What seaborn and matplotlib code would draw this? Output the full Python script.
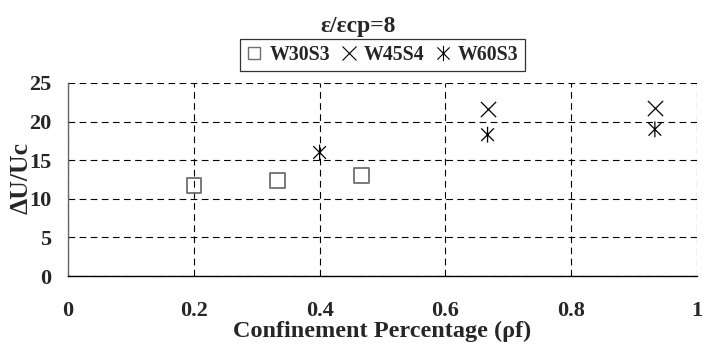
import numpy as np
import pandas as pd
import seaborn as sns
import matplotlib
matplotlib.use("Agg")
import matplotlib.pyplot as plt
from matplotlib.path import Path
from matplotlib.lines import Line2D

# ---- data ----
series_names = ["W30S3", "W45S4", "W60S3"]
rho_w30s3 = [0.2, 0.333, 0.467]
du_w30s3 = [11.7, 12.4, 13.0]
rho_w45s4 = [0.667, 0.933]
du_w45s4 = [21.6, 21.7]
rho_w60s3 = [0.4, 0.667, 0.933]
du_w60s3 = [16.0, 18.3, 19.0]
x_ticks = [0, 0.2, 0.4, 0.6, 0.8, 1]
x_tick_labels = ["0", "0.2", "0.4", "0.6", "0.8", "1"]
y_ticks = [0, 5, 10, 15, 20, 25]
title_text = "ε/εcp=8"
x_label = "Confinement Percentage (ρf)"
y_label = "ΔU/Uc"

df = pd.concat([
    pd.DataFrame({"rho": rho_w30s3, "du": du_w30s3, "series": series_names[0]}),
    pd.DataFrame({"rho": rho_w45s4, "du": du_w45s4, "series": series_names[1]}),
    pd.DataFrame({"rho": rho_w60s3, "du": du_w60s3, "series": series_names[2]}),
], ignore_index=True)

sns.set_theme(style="white")
plt.rcParams["font.family"] = ["Liberation Serif", "DejaVu Serif"]
plt.rcParams["font.weight"] = "bold"

star_path = Path(
    [(-1, -1), (1, 1), (-1, 1), (1, -1), (0, -1.25), (0, 1.25)],
    [Path.MOVETO, Path.LINETO, Path.MOVETO, Path.LINETO, Path.MOVETO, Path.LINETO],
)

styles = {
    "W30S3": dict(marker="s", s=110, facecolor="none", edgecolor="#6e6e6e", linewidths=1.3),
    "W45S4": dict(marker="x", s=120, color="black", linewidths=0.9),
    "W60S3": dict(marker=star_path, s=130, facecolor="none", edgecolor="black", linewidths=0.9),
}

fig = plt.figure(figsize=(7.12, 3.49), dpi=100)
ax = fig.add_axes([68 / 712, 1 - 276 / 349, 629 / 712, 193 / 349])

for name in series_names:
    sub = df[df["series"] == name]
    sns.scatterplot(data=sub, x="rho", y="du", ax=ax, legend=False, zorder=3, **styles[name])

ax.set_xlim(0, 1)
ax.set_ylim(0, 25)
ax.set_xticks(x_ticks)
ax.set_xticklabels(x_tick_labels)
ax.set_yticks(y_ticks)
ax.grid(True, color="black", linewidth=0.8, linestyle=(0, (6, 4)))
ax.set_axisbelow(True)

for sp in ["top", "right"]:
    ax.spines[sp].set_visible(False)
ax.spines["left"].set_color("#666666")
ax.spines["left"].set_linewidth(1.0)
ax.spines["bottom"].set_color("black")
ax.spines["bottom"].set_linewidth(1.0)

ax.tick_params(axis="x", direction="out", length=5, width=0.9, color="black",
               pad=13, labelsize=16)
ax.tick_params(axis="y", direction="out", length=5, width=0.9, color="black",
               pad=7, labelsize=16)
for lab in ax.get_xticklabels() + ax.get_yticklabels():
    lab.set_fontweight("bold")

ax.set_xlabel(x_label, fontsize=17.5, fontweight="bold", labelpad=0)
ax.set_ylabel(y_label, fontsize=18.5, fontweight="bold")
ax.yaxis.set_label_coords(-0.056, 0.51)

fig.text(358 / 712, 1 - 32 / 349, title_text, ha="center", va="baseline",
         fontsize=17, fontweight="bold")

handles = [
    Line2D([], [], linestyle="none", marker="s", markersize=9, markerfacecolor="none",
           markeredgecolor="#6e6e6e", markeredgewidth=1.0),
    Line2D([], [], linestyle="none", marker="x", markersize=10, color="black",
           markeredgewidth=0.8),
    Line2D([], [], linestyle="none", marker=star_path, markersize=11, markerfacecolor="none",
           markeredgecolor="black", markeredgewidth=0.8),
]
leg = fig.legend(handles, series_names, loc="center", ncol=3,
                 bbox_to_anchor=(382.5 / 712, 1 - 55 / 349),
                 frameon=True, fancybox=False, shadow=False,
                 prop={"family": "Liberation Serif", "weight": "bold", "size": 14.3},
                 handlelength=0.8, handletextpad=0.35, columnspacing=0.55,
                 borderpad=0.3, borderaxespad=0)
leg.get_frame().set_edgecolor("black")
leg.get_frame().set_linewidth(0.9)

fig.savefig("out.png", dpi=100)
